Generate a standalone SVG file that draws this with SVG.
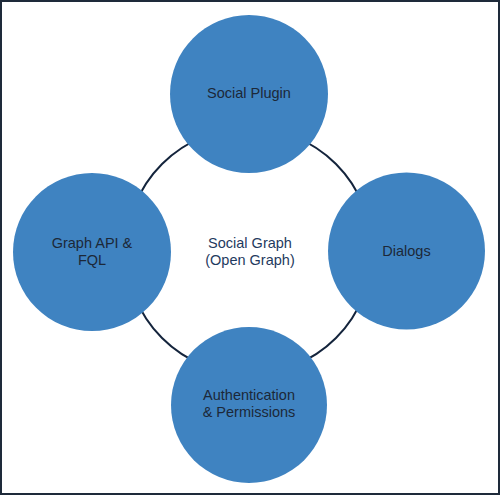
<svg xmlns="http://www.w3.org/2000/svg" width="500" height="495" viewBox="0 0 500 495">
<style>
.node{fill:#3f83c1;}
.lbl{font-family:"Liberation Sans",Arial,sans-serif;font-size:14.5px;fill:#1c2838;text-anchor:middle;}
.center{font-family:"Liberation Sans",Arial,sans-serif;font-size:14.5px;fill:#1f3a60;text-anchor:middle;}
</style>
<rect x="1" y="1" width="498" height="493" fill="#ffffff" stroke="#1e2a3a" stroke-width="2"/>
<g id="connectors">
<circle cx="249" cy="251" r="123" fill="none" stroke="#14243c" stroke-width="2"/>
</g>
<g id="center-label">
<text class="center" x="250" y="248">Social Graph</text>
<text class="center" x="250" y="265">(Open Graph)</text>
</g>
<g id="social-plugin">
<circle class="node" cx="249" cy="94" r="79"/>
<text class="lbl" x="249" y="98">Social Plugin</text>
</g>
<g id="dialogs">
<circle class="node" cx="406.5" cy="251" r="78.5"/>
<text class="lbl" x="406.5" y="256">Dialogs</text>
</g>
<g id="graph-api">
<circle class="node" cx="92" cy="252" r="79"/>
<text class="lbl" x="92" y="248">Graph API &amp;</text>
<text class="lbl" x="92" y="265">FQL</text>
</g>
<g id="authentication">
<circle class="node" cx="249" cy="405" r="78"/>
<text class="lbl" x="249" y="400">Authentication</text>
<text class="lbl" x="249" y="417">&amp; Permissions</text>
</g>
</svg>
